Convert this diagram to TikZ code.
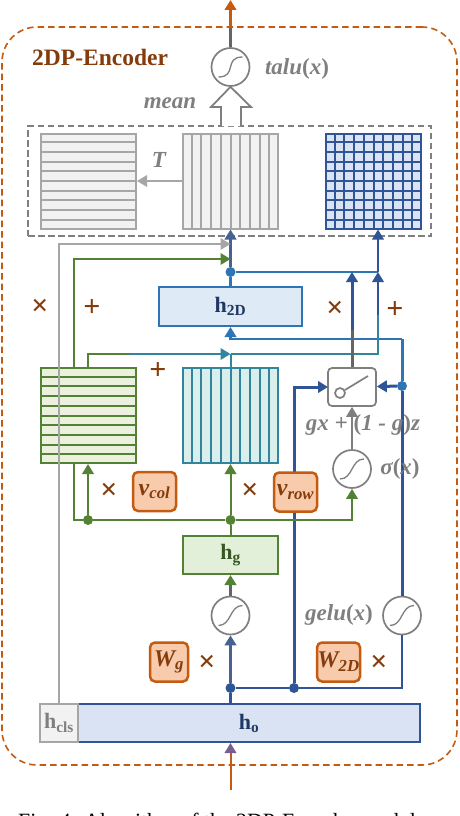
\documentclass[tikz,border=0pt]{standalone}
\usepackage{fontspec}
\setmainfont{Liberation Serif}
\usetikzlibrary{arrows.meta,calc}
\definecolor{orangeline}{HTML}{C55A11}
\definecolor{brownmark}{HTML}{843C0C}
\definecolor{paramfill}{HTML}{F8CBAD}
\definecolor{greyline}{HTML}{7F7F7F}
\definecolor{lightline}{HTML}{A6A6A6}
\definecolor{greyfill}{HTML}{F2F2F2}
\definecolor{blueline}{HTML}{2F5597}
\definecolor{skyline}{HTML}{2E75B6}
\definecolor{bluefill}{HTML}{DAE3F3}
\definecolor{skyfill}{HTML}{DEEAF6}
\definecolor{navytext}{HTML}{1F3864}
\definecolor{greenline}{HTML}{548235}
\definecolor{greenfill}{HTML}{E2F0D9}
\definecolor{olivefill}{HTML}{EBF1DE}
\definecolor{greentext}{HTML}{385723}
\definecolor{tealline}{HTML}{31859C}
\definecolor{tealfill}{HTML}{DAEFEB}
\definecolor{purpletip}{HTML}{7A5C8E}
\tikzset{
	bigtip/.style={-{Triangle[width=11.5pt,length=10pt]}},
	tintip/.style={-{Triangle[width=11.5pt,length=10pt,color=#1]}},
	gridbox/.style={draw=#1, line width=2pt, minimum width=95pt, minimum height=95pt, inner sep=0pt},
	block/.style={line width=2pt, inner sep=0pt, font=\fontsize{22}{22}\selectfont\bfseries},
	param/.style={draw=orangeline, fill=paramfill, rounded corners=5pt, line width=2.5pt, inner sep=0pt, text=brownmark, font=\fontsize{24}{24}\selectfont\bfseries\itshape},
	sigcirc/.style={circle, draw=greyline, fill=white, line width=1.7pt, minimum size=38pt, inner sep=0pt, path picture={
		\draw[greyline, line width=1.3pt, shift={(path picture bounding box.center)}] (-12pt,-10pt) .. controls (#1,-10pt) and (-#1,10pt) .. (12pt,10pt);}},
	func/.style={text=greyline, font=\fontsize{23}{23}\selectfont\bfseries\itshape},
	opmark/.style={text=brownmark, font=\fontsize{30}{30}\selectfont\bfseries},
	dotmark/.style={circle, fill=#1, minimum size=10pt, inner sep=0pt}
}
\newcommand{\rowlines}[2]{
	\foreach \i in {1,...,9}
		\draw[#2, line width=2pt] ($(#1.north west)!\i/10!(#1.south west)$) -- ($(#1.north east)!\i/10!(#1.south east)$);
}
\newcommand{\collines}[2]{
	\foreach \i in {1,...,9}
		\draw[#2, line width=2pt] ($(#1.north west)!\i/10!(#1.north east)$) -- ($(#1.south west)!\i/10!(#1.south east)$);
}
\newcommand{\argx}{{\upshape(}x{\upshape)}}
\begin{document}
\begin{tikzpicture}[x=1pt, y=-1pt]
	\useasboundingbox (0,0) rectangle (460,816);
	\node[draw=orangeline, dash pattern=on 6.5pt off 4pt, line width=1.6pt, rounded corners=35pt, minimum width=455pt, minimum height=738pt, inner sep=0pt] (encoder) at (229.5,396) {};
	\node[anchor=west, inner sep=0pt, text=brownmark, font=\fontsize{23.5}{23.5}\selectfont\bfseries] (title) at (32,57) {2DP-Encoder};

	\node[draw=greyline, dash pattern=on 6.5pt off 3.5pt, line width=1.6pt, minimum width=403pt, minimum height=110pt, inner sep=0pt] (output) at (229.5,181) {};
	\node[gridbox=lightline, fill=greyfill] (mT) at (88.5,181) {};
	\node[gridbox=lightline, fill=greyfill] (mR) at (230.5,181) {};
	\node[gridbox=blueline, fill=bluefill] (m2D) at (373.5,181) {};
	\rowlines{mT}{lightline}
	\collines{mR}{lightline}
	\rowlines{m2D}{blueline}
	\collines{m2D}{blueline}
	\draw[lightline, line width=1.8pt, bigtip] (mR) -- (mT);
	\node[func] (T) at (159,160) {T};

	\node[sigcirc=7pt] (talu) at (230.5,67) {};
	\coordinate (outMid) at (230.5,28);
	\coordinate (outEnd) at (230.5,0);
	\draw[greyline!80!black, line width=3pt] (talu) -- (outMid);
	\draw[orangeline, line width=3pt, bigtip] (outMid) -- (outEnd);
	\node[func] (taluL) at (297,69) {talu\argx};
	\node[func] (meanL) at (170,103) {mean};
	\draw[greyline, line width=1.8pt, fill=white] (221,126) -- (221,107) -- (211,107) -- (talu.south) -- (251,107) -- (241,107) -- (241,126);

	\node[block, draw=skyline, fill=skyfill, minimum width=143pt, minimum height=39pt, text=navytext] (h2D) at (230.5,306.5) {h\textsubscript{2D}};
	\node[block, draw=greenline, fill=greenfill, minimum width=95pt, minimum height=38pt, text=greentext] (hg) at (230.5,555) {h\textsubscript{g}};
	\node[block, draw=blueline, fill=bluefill, minimum width=342pt, minimum height=38pt, text=navytext] (ho) at (249,723) {h\textsubscript{o}};
	\node[block, draw=lightline, fill=greyfill, minimum width=38pt, minimum height=38pt, text=greyline] (hcls) at (59,723) {h\textsubscript{cls}};

	\node[gridbox=greenline, fill=olivefill] (mCol) at (88.5,415.5) {};
	\node[gridbox=tealline, fill=tealfill] (mRow) at (230.5,415.5) {};
	\rowlines{mCol}{greenline}
	\collines{mRow}{tealline}

	\node[sigcirc=1pt] (sigG) at (230.5,615.5) {};
	\node[sigcirc=1pt] (sigma) at (352,469) {};
	\node[sigcirc=1pt] (gelu) at (402,615.5) {};
	\node[draw=greyline, fill=white, rounded corners=4pt, line width=1.7pt, minimum width=48pt, minimum height=38pt, inner sep=0pt] (switch) at (352,387) {};
	\coordinate (armEnd) at (368,376);
	\node[circle, draw=greyline, fill=white, line width=1.7pt, minimum size=10pt, inner sep=0pt] (pole) at (340,393) {};
	\draw[greyline, line width=1.7pt] (pole) -- (armEnd);

	\node[dotmark=blueline] (dHo) at (230.5,688) {};
	\node[dotmark=blueline] (dGate) at (294,688) {};
	\node[dotmark=skyline] (dGelu) at (402,386) {};
	\node[dotmark=skyline] (dH2D) at (230.5,272) {};
	\node[dotmark=greenline] (dRow) at (230.5,520) {};
	\node[dotmark=greenline] (dCol) at (88,520) {};

	\coordinate (inEnd) at (230.5,790);
	\coordinate (clsIn) at (230.5,244);
	\coordinate (colIn) at (230.5,259);
	\coordinate (colOut) at (74,368);
	\coordinate (colAdd) at (88,368);
	\coordinate (joinTeal) at (230.5,354);
	\coordinate (greenEnd) at (130,354);
	\coordinate (upTeal) at (378,315);
	\coordinate (tipTeal) at (378,272);
	\coordinate (tipSw) at (352,272);
	\coordinate (swMid) at (352,330);
	\coordinate (gateIn) at (328,387);
	\coordinate (colDown) at (74,463);
	\coordinate (h2DIn) at (402,339);

	\draw[orangeline, line width=2pt, tintip=purpletip] (inEnd) -- (ho.south -| inEnd);
	\draw[blueline, line width=3pt] (ho.north -| dHo) -- (dHo);
	\draw[blueline!70!greyline, line width=3pt, bigtip] (dHo) -- (sigG);
	\draw[greyline!80!black, line width=3pt, tintip=greenline] (sigG) -- (hg);
	\draw[blueline, line width=2.6pt] (dHo) -- (dGate);
	\draw[blueline, line width=2.6pt] (dGate) -| (gelu);
	\draw[blueline, line width=3pt, bigtip] (dGate) |- (gateIn);
	\draw[blueline, line width=3pt] (gelu) -- (dGelu);
	\draw[blueline, line width=3pt, bigtip] (dGelu) -- (switch);
	\draw[skyline, line width=3pt] (dGelu) -- (h2DIn);
	\draw[skyline, line width=2.2pt, bigtip] (h2DIn) -| (h2D.south);
	\draw[skyline, line width=3pt] (h2D) -- (dH2D);
	\draw[blueline!70!greyline, line width=3pt, bigtip] (dH2D) -- (mR.south);
	\draw[skyline, line width=2pt] (dH2D) -- (tipTeal);
	\draw[blueline, line width=2pt, bigtip] (tipTeal) -- (m2D.south -| tipTeal);

	\draw[lightline, line width=1.8pt, bigtip] (hcls) |- (clsIn);
	\draw[greenline, line width=2pt, bigtip] (colOut) |- (colIn);
	\draw[greenline, line width=2pt] (colAdd) |- (greenEnd);
	\draw[tealline, line width=2pt, bigtip] (greenEnd) -- (joinTeal);
	\draw[tealline, line width=2pt] (mRow.north) -- (joinTeal);
	\draw[tealline, line width=2pt] (joinTeal) -| (upTeal);
	\draw[blueline, line width=2pt, bigtip] (upTeal) -- (tipTeal);

	\draw[greyline!80!black, line width=3pt] (switch) -- (swMid);
	\draw[blueline, line width=3pt, bigtip] (swMid) -- (tipSw);
	\draw[greyline, line width=1.8pt, bigtip] (sigma) -- (switch);

	\draw[greenline, line width=2pt] (hg.north) -- (dRow);
	\draw[greenline, line width=2pt, bigtip] (dRow) -- (mRow.south);
	\draw[greenline, line width=2pt, bigtip] (dCol) -- (mCol.south -| dCol);
	\draw[greenline, line width=2pt] (colDown) |- (dCol);
	\draw[greenline, line width=2pt] (dCol) -- (dRow);
	\draw[greenline, line width=2pt, bigtip] (dRow) -| (sigma);

	\node[param, minimum width=43pt, minimum height=39pt] (vcol) at (154.5,491.5) {v\textsubscript{col}};
	\node[param, minimum width=43pt, minimum height=39pt] (vrow) at (295.5,492) {v\textsubscript{row}};
	\node[param, minimum width=38pt, minimum height=39pt] (Wg) at (169,662) {W\textsubscript{g}};
	\node[param, minimum width=43pt, minimum height=39pt] (W2D) at (338.5,662) {W\textsubscript{2D}};

	\node[func] (gate) at (363,425) {gx + {\upshape(}1 - g{\upshape)}z};
	\node[func] (sigmaL) at (400,469) {σ\argx};
	\node[func] (geluL) at (339,615) {gelu\argx};

	\node[opmark] (x1) at (40,307) {×};
	\node[opmark] (p1) at (92,308) {+};
	\node[opmark] (p2) at (158,371) {+};
	\node[opmark] (x2) at (335,309) {×};
	\node[opmark] (p3) at (395,310) {+};
	\node[opmark] (x3) at (109,491) {×};
	\node[opmark] (x4) at (250,491) {×};
	\node[opmark] (x5) at (207,663) {×};
	\node[opmark] (x6) at (379,663) {×};

	\node[anchor=base west, inner sep=0pt, font=\fontsize{21.8}{21.8}\selectfont] (caption) at (18,828) {Fig. 4: Algorithm of the 2DP-Encoder module};
\end{tikzpicture}
\end{document}
